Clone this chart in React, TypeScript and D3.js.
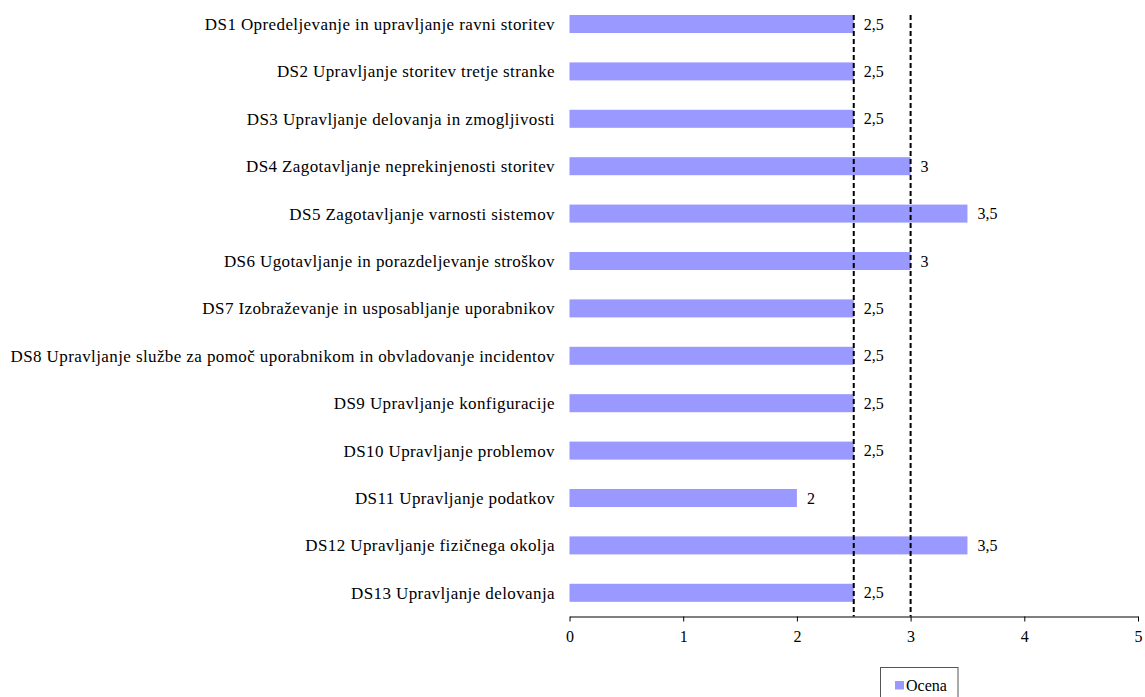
import * as d3 from 'd3';
import { useRef, useEffect } from 'react';

const categories = [
    'DS1 Opredeljevanje in upravljanje ravni storitev',
    'DS2 Upravljanje storitev tretje stranke',
    'DS3 Upravljanje delovanja in zmogljivosti',
    'DS4 Zagotavljanje neprekinjenosti storitev',
    'DS5 Zagotavljanje varnosti sistemov',
    'DS6 Ugotavljanje in porazdeljevanje stroškov',
    'DS7 Izobraževanje in usposabljanje uporabnikov',
    'DS8 Upravljanje službe za pomoč uporabnikom in obvladovanje incidentov',
    'DS9 Upravljanje konfiguracije',
    'DS10 Upravljanje problemov',
    'DS11 Upravljanje podatkov',
    'DS12 Upravljanje fizičnega okolja',
    'DS13 Upravljanje delovanja',
];
const ocena = [2.5, 2.5, 2.5, 3, 3.5, 3, 2.5, 2.5, 2.5, 2.5, 2, 3.5, 2.5];
const refLines = [2.5, 3];
const xTicks = [0, 1, 2, 3, 4, 5];
const seriesName = 'Ocena';

export default function App() {
    const svgRef = useRef<SVGSVGElement>(null);

    useEffect(() => {
        document.body.style.margin = '0';
        if (!svgRef.current) return;
        const svg = d3.select(svgRef.current);
        svg.selectAll('*').remove();

        const left = 569.5, right = 1138, top = 0.3, bottom = 616.5;

        const x = d3.scaleLinear().domain([0, 5]).range([left, right]);
        const y = d3.scaleBand<string>()
            .domain(categories)
            .range([top, bottom])
            .paddingInner(0.62)
            .paddingOuter(0.31);

        // bars
        svg.append('g')
            .selectAll('rect')
            .data(ocena)
            .enter()
            .append('rect')
            .attr('x', x(0))
            .attr('y', (_, i) => y(categories[i]) || 0)
            .attr('width', d => x(d) - x(0))
            .attr('height', y.bandwidth())
            .attr('fill', '#9999ff');

        // dashed reference lines
        svg.append('g')
            .selectAll('line')
            .data(refLines)
            .enter()
            .append('line')
            .attr('x1', d => x(d))
            .attr('x2', d => x(d))
            .attr('y1', 15)
            .attr('y2', bottom)
            .attr('stroke', '#000')
            .attr('stroke-width', 2)
            .attr('stroke-dasharray', '5,3');

        // value labels
        svg.append('g')
            .selectAll('text')
            .data(ocena)
            .enter()
            .append('text')
            .attr('x', d => x(d) + 10)
            .attr('y', (_, i) => (y(categories[i]) || 0) + y.bandwidth() / 2)
            .attr('dy', '0.35em')
            .attr('font-size', 16)
            .attr('fill', '#000')
            .text(d => String(d).replace('.', ','));

        // category labels
        svg.append('g')
            .selectAll('text')
            .data(categories)
            .enter()
            .append('text')
            .attr('x', 555)
            .attr('y', d => (y(d) || 0) + y.bandwidth() / 2)
            .attr('dy', '0.35em')
            .attr('text-anchor', 'end')
            .attr('font-size', 17)
            .attr('letter-spacing', 0.4)
            .attr('fill', '#000')
            .text(d => d);

        // x axis
        const ax = svg.append('g')
            .attr('transform', `translate(0,${bottom})`)
            .call(d3.axisBottom(x).tickValues(xTicks).tickFormat(d3.format('d')).tickSize(5).tickSizeOuter(0).tickPadding(9));
        ax.attr('font-family', null).attr('font-size', null);
        ax.select('.domain').attr('stroke', '#000').attr('stroke-width', 1.2);
        ax.selectAll('.tick line').attr('stroke', '#000');
        ax.selectAll('.tick text')
            .attr('font-size', 16)
            .attr('fill', '#000');

        // legend
        const lg = svg.append('g').attr('transform', 'translate(880,667)');
        lg.append('rect')
            .attr('x', 0.5).attr('y', 0.5)
            .attr('width', 77.5).attr('height', 34)
            .attr('fill', '#fff')
            .attr('stroke', '#555')
            .attr('stroke-width', 1);
        lg.append('rect')
            .attr('x', 15).attr('y', 14)
            .attr('width', 9).attr('height', 8.5)
            .attr('fill', '#9999ff');
        lg.append('text')
            .attr('x', 26).attr('y', 18)
            .attr('dy', '0.35em')
            .attr('font-size', 16)
            .attr('fill', '#000')
            .text(seriesName);
    }, []);

    return (
        <svg
            ref={svgRef}
            width={1145}
            height={697}
            style={{ display: 'block', fontFamily: "'Liberation Serif'" }}
        />
    );
}
